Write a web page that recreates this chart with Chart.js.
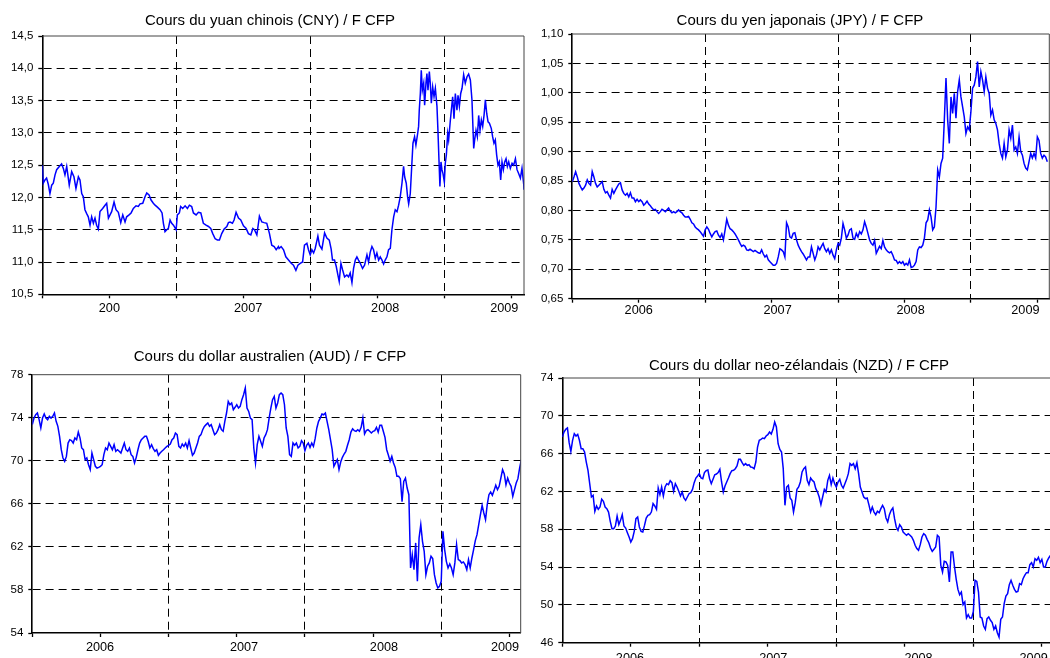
<!DOCTYPE html>
<html><head><meta charset="utf-8">
<script src="https://cdn.jsdelivr.net/npm/chart.js@4.4.1/dist/chart.umd.min.js"></script>
<style>
html,body{margin:0;padding:0;background:#fff;overflow:hidden;width:1050px;height:658px;position:relative;}
.panel{position:absolute;}
.title{position:absolute;width:420px;text-align:center;font-family:"Liberation Sans",Arial,Helvetica,sans-serif;font-size:15px;line-height:18px;color:#000;white-space:nowrap;}
</style></head><body>
<div class="panel" style="left:0px;top:0px;width:542px;height:330px"><canvas id="c1"></canvas></div>
<div class="panel" style="left:540px;top:0px;width:522px;height:330px"><canvas id="c2"></canvas></div>
<div class="panel" style="left:0px;top:340px;width:542px;height:318px"><canvas id="c3"></canvas></div>
<div class="panel" style="left:540px;top:340px;width:520px;height:330px"><canvas id="c4"></canvas></div>
<div class="title" id="t1" style="left:60px;top:11px"></div>
<div class="title" id="t2" style="left:590px;top:11px"></div>
<div class="title" id="t3" style="left:60px;top:347px"></div>
<div class="title" id="t4" style="left:589px;top:356px"></div>
<script>
// ---------- DATA ----------
const halfYearTicks = [2006, 2006.5, 2007, 2007.5, 2008, 2008.5, 2009, 2009.5];

// CNY (yuan) : dates as fractional years, values in F CFP
const cnyDates = [
2006.000,2006.007,2006.020,2006.032,2006.045,2006.057,2006.070,2006.082,2006.095,2006.107,
2006.127,2006.144,2006.157,2006.169,2006.182,2006.201,2006.219,2006.236,2006.251,2006.269,
2006.281,2006.294,2006.306,2006.318,2006.331,2006.343,2006.356,2006.368,2006.381,2006.393,
2006.405,2006.418,2006.430,2006.450,2006.468,2006.480,2006.493,2006.505,2006.517,2006.535,
2006.550,2006.567,2006.585,2006.600,2006.617,2006.629,2006.647,2006.662,2006.679,2006.699,
2006.716,2006.729,2006.749,2006.766,2006.779,2006.796,2006.811,2006.828,2006.841,2006.858,
2006.878,2006.893,2006.903,2006.915,2006.928,2006.940,2006.953,2006.965,2006.978,2006.998,
2007.007,2007.022,2007.032,2007.047,2007.065,2007.082,2007.097,2007.114,2007.127,2007.147,
2007.164,2007.182,2007.201,2007.221,2007.239,2007.256,2007.271,2007.289,2007.306,2007.321,
2007.338,2007.356,2007.376,2007.388,2007.400,2007.418,2007.430,2007.445,2007.463,2007.480,
2007.500,2007.520,2007.537,2007.555,2007.570,2007.582,2007.600,2007.619,2007.637,2007.654,
2007.674,2007.694,2007.711,2007.729,2007.744,2007.761,
2007.766,2007.781,2007.799,2007.816,2007.836,2007.856,2007.873,2007.891,2007.906,2007.923,
2007.941,2007.955,2007.973,2007.985,2007.998,2008.010,2008.023,2008.035,2008.055,2008.067,
2008.085,2008.105,2008.122,2008.140,2008.154,2008.164,2008.179,2008.192,2008.204,2008.214,
2008.227,2008.239,2008.254,2008.271,2008.284,2008.296,2008.309,2008.321,2008.334,2008.346,
2008.358,2008.371,2008.388,2008.403,2008.421,2008.433,2008.445,2008.458,2008.470,2008.483,
2008.495,2008.508,2008.520,2008.533,2008.545,2008.557,2008.570,2008.582,2008.595,2008.607,
2008.620,2008.632,2008.645,2008.657,2008.669,2008.682,2008.694,2008.702,2008.714,2008.724,
2008.732,2008.744,2008.756,2008.764,2008.776,2008.786,2008.799,2008.806,2008.811,2008.819,
2008.826,2008.834,2008.844,2008.851,2008.861,2008.868,2008.876,2008.886,2008.893,2008.901,
2008.911,2008.921,2008.931,2008.943,2008.950,2008.958,2008.965,2008.973,2008.980,2008.988,
2008.998,2009.005,2009.013,2009.023,2009.030,2009.043,2009.050,2009.060,2009.070,2009.080,
2009.092,2009.100,2009.110,2009.120,2009.130,2009.142,2009.154,2009.167,2009.179,2009.192,
2009.204,2009.217,2009.224,2009.234,2009.244,2009.254,2009.264,2009.274,2009.284,2009.294,
2009.304,2009.314,2009.324,2009.334,2009.348,2009.358,2009.368,2009.378,2009.388,2009.398,
2009.408,2009.418,2009.428,2009.438,2009.448,2009.458,2009.468,2009.478,2009.490,2009.503,
2009.515,2009.528,2009.540,2009.552,2009.565,2009.577,2009.590,2009.592];
const cnyValues = [
12.50,12.22,12.27,12.30,12.20,12.06,12.19,12.22,12.35,12.43,
12.48,12.52,12.45,12.35,12.48,12.19,12.40,12.32,12.14,12.32,
12.27,12.06,12.01,11.81,11.75,11.70,11.57,11.70,11.60,11.68,
11.57,11.51,11.78,11.83,11.88,11.91,11.68,11.73,11.78,11.93,
11.81,11.77,11.61,11.73,11.62,11.70,11.73,11.76,11.83,11.87,
11.86,11.90,11.91,12.01,12.07,12.04,11.96,11.91,11.88,11.85,
11.81,11.76,11.60,11.47,11.50,11.52,11.65,11.60,11.57,11.50,
11.73,11.76,11.86,11.83,11.87,11.83,11.88,11.86,11.76,11.73,
11.77,11.76,11.60,11.57,11.55,11.52,11.44,11.36,11.34,11.34,
11.44,11.51,11.55,11.61,11.62,11.60,11.65,11.77,11.68,11.65,
11.56,11.52,11.44,11.42,11.52,11.50,11.42,11.71,11.62,11.61,
11.60,11.44,11.26,11.24,11.19,11.24,
11.21,11.24,11.19,11.08,11.03,10.98,10.95,10.87,10.95,10.98,
11.00,11.26,11.29,11.19,11.11,11.19,11.14,11.21,11.40,11.26,
11.20,11.45,11.37,11.34,11.20,11.03,11.03,10.93,10.80,10.70,
10.98,10.88,10.77,10.80,10.77,10.83,10.68,10.90,11.03,11.08,
11.03,10.98,10.90,10.95,11.11,11.00,11.15,11.24,11.19,11.06,
11.14,11.03,11.08,11.03,10.97,11.03,11.08,11.19,11.21,11.50,
11.70,11.81,11.78,11.88,12.01,12.22,12.48,12.32,12.22,12.01,
11.90,12.06,12.53,12.84,12.94,12.81,12.99,13.10,13.35,13.61,
13.97,13.66,13.77,13.43,13.77,13.92,13.66,13.95,13.77,13.46,
13.71,13.56,13.69,13.41,13.05,12.58,12.17,12.55,12.43,12.37,
12.24,12.53,12.66,12.99,12.89,13.20,13.35,13.56,13.22,13.61,
13.35,13.58,13.41,13.61,13.69,13.90,13.77,13.87,13.91,13.82,
13.51,12.76,12.89,13.04,12.94,13.27,13.04,13.20,13.10,13.27,
13.51,13.30,13.17,13.15,13.07,12.94,12.84,12.89,12.66,12.50,
12.55,12.27,12.55,12.43,12.55,12.60,12.48,12.55,12.45,12.53,
12.50,12.60,12.43,12.37,12.30,12.45,12.20,12.12];

// JPY, AUD, NZD : regular sampling grid starting 2006.0, one point every 1/80 year
const gridStart = 2006;
const gridStep = 1 / 80;

const jpyValues = [
0.849,0.857,0.866,0.857,0.846,0.840,0.835,0.838,0.843,0.852,
0.846,0.843,0.866,0.857,0.846,0.840,0.843,0.846,0.849,0.836,
0.830,0.832,0.826,0.821,0.836,0.829,0.835,0.840,0.845,0.847,
0.835,0.829,0.826,0.829,0.823,0.830,0.821,0.821,0.815,0.819,
0.815,0.818,0.815,0.809,0.812,0.816,0.811,0.808,0.804,0.801,
0.802,0.798,0.795,0.798,0.802,0.800,0.798,0.801,0.804,0.799,
0.796,0.798,0.796,0.798,0.801,0.798,0.796,0.792,0.789,0.789,
0.790,0.785,0.779,0.777,0.772,0.769,0.767,0.764,0.760,0.756,
0.767,0.772,0.768,0.761,0.755,0.760,0.764,0.765,0.758,0.754,
0.760,0.750,0.767,0.785,0.775,0.769,0.767,0.764,0.760,0.755,
0.750,0.744,0.739,0.741,0.739,0.733,0.732,0.734,0.732,0.730,
0.732,0.730,0.728,0.727,0.733,0.726,0.721,0.724,0.716,0.713,
0.710,0.707,0.707,0.710,0.721,0.735,0.733,0.730,0.721,0.779,
0.772,0.755,0.753,0.761,0.762,0.750,0.741,0.735,0.730,0.726,
0.721,0.716,0.721,
0.721,0.738,0.727,0.716,0.724,0.738,0.733,0.739,0.744,0.735,
0.730,0.735,0.727,0.733,0.724,0.718,0.733,0.744,0.741,0.753,
0.778,0.767,0.753,0.758,0.767,0.769,0.753,0.751,0.761,0.755,
0.764,0.760,0.767,0.781,0.772,0.761,0.750,0.744,0.741,0.749,
0.727,0.733,0.739,0.735,0.749,0.738,0.733,0.730,0.728,0.730,
0.724,0.716,0.715,0.710,0.713,0.710,0.713,0.707,0.710,0.707,
0.716,0.703,0.704,0.707,0.713,0.733,0.738,0.737,0.741,0.753,
0.779,0.784,0.801,0.789,0.767,0.772,0.806,0.869,0.857,0.880,
0.889,0.954,1.025,0.954,0.914,0.993,0.965,0.999,0.957,1.002,
1.022,0.993,0.976,0.959,0.931,0.942,0.937,0.968,1.008,1.013,
1.027,1.053,1.010,1.036,1.022,1.002,1.027,1.008,0.999,0.962,
0.971,0.954,0.948,0.937,0.914,0.897,0.889,0.914,0.891,0.903,
0.937,0.923,0.945,0.903,0.908,0.897,0.925,0.900,0.894,0.880,
0.872,0.869,0.883,0.897,0.889,0.897,0.889,0.925,0.919,0.897,
0.889,0.894,0.891,0.883];

const audValues = [
73.36,73.97,74.28,74.44,73.82,73.05,73.97,74.35,73.97,73.82,
74.13,73.97,74.13,74.44,73.67,73.20,72.27,71.03,70.26,69.95,
70.41,71.65,71.96,71.87,71.65,72.12,71.96,72.67,72.12,71.19,
71.03,70.11,70.26,69.64,69.18,70.72,70.11,69.49,69.33,69.39,
69.49,69.64,70.57,71.19,71.03,71.65,71.34,71.03,71.50,70.88,
71.03,70.88,70.72,71.19,71.65,71.03,70.88,71.19,70.57,70.41,
69.80,70.32,71.03,71.65,71.96,72.12,72.27,72.27,71.81,71.19,
71.50,71.13,70.88,71.03,70.51,70.72,70.88,71.03,71.19,71.34,
71.44,71.56,71.96,72.12,72.58,72.43,71.34,71.19,71.56,71.34,
71.65,71.19,71.87,71.19,70.51,70.72,71.19,71.65,72.27,72.43,
72.89,73.20,73.36,73.51,73.20,73.36,72.89,72.43,72.58,72.89,
73.36,72.89,72.74,73.67,74.44,75.52,75.21,75.37,74.75,74.97,
75.21,74.90,75.06,75.68,76.14,76.76,74.90,74.59,73.97,73.82,
71.19,69.80,71.50,72.27,71.81,71.34,72.12,72.43,72.89,73.97,
74.90,75.68,75.99,
74.90,75.37,76.14,76.30,76.14,75.21,73.05,
72.27,70.57,70.41,71.65,71.44,71.65,71.19,71.34,71.87,71.65,
70.94,71.44,71.65,71.25,71.65,71.34,72.06,73.05,73.67,73.97,
74.35,74.28,74.44,73.67,72.89,71.96,71.03,69.49,69.80,70.11,
69.18,69.89,70.32,70.63,70.88,71.44,71.96,72.67,72.98,72.80,
72.74,72.89,72.74,73.11,73.97,72.49,72.80,72.89,72.74,72.58,
72.74,72.80,73.11,72.67,73.30,73.30,72.74,72.18,71.03,70.51,
69.95,70.41,69.80,69.39,68.56,68.56,68.34,66.20,68.09,68.40,
67.47,66.85,60.04,61.28,59.89,62.37,58.80,62.83,64.07,62.52,
61.59,59.42,60.20,60.51,61.13,60.91,59.42,58.65,58.19,58.34,
58.80,63.45,61.75,60.66,60.04,60.41,60.04,59.42,60.51,62.21,
60.82,60.72,60.51,60.60,60.35,59.89,60.82,60.04,60.97,61.75,
62.58,63.14,64.07,65.00,65.86,65.15,64.53,65.93,66.85,67.10,
66.79,67.23,67.72,67.32,67.63,68.40,69.18,68.77,67.78,68.40,
67.94,67.63,66.70,67.32,67.94,68.34,69.33,70.10];

const nzdValues = [
67.76,68.29,68.57,68.71,67.16,66.24,67.41,68.11,67.86,68.04,
67.41,66.52,66.52,66.17,65.11,64.23,62.82,61.41,61.59,59.90,
60.46,60.11,60.35,61.17,60.95,60.35,60.18,59.82,58.84,58.06,
58.06,58.34,59.40,58.49,58.94,59.54,58.34,58.13,57.64,57.18,
56.65,57.00,57.78,59.12,59.30,58.24,57.78,57.71,58.41,59.19,
59.47,59.54,59.82,60.71,60.46,60.11,62.36,61.66,62.47,61.52,
62.47,62.82,62.72,63.14,62.93,62.01,62.82,62.47,62.01,61.52,
61.94,61.31,61.06,61.41,61.76,61.87,62.22,62.93,63.42,63.63,
63.88,63.42,63.35,63.99,64.20,64.27,63.35,62.82,63.28,63.77,
63.84,63.99,64.34,63.00,61.94,62.58,63.00,63.42,63.88,64.20,
64.23,64.41,64.69,65.40,65.40,65.04,64.76,64.94,64.76,64.83,
64.59,64.55,64.41,65.11,66.70,67.41,67.51,67.65,67.58,67.86,
68.01,68.29,68.08,68.57,69.35,68.82,67.05,66.45,66.17,64.41,
60.53,62.47,62.65,61.31,61.06,59.82,60.81,62.22,62.47,63.00,
64.06,64.41,
64.59,63.17,62.72,63.42,63.17,63.00,62.29,61.94,
61.41,60.60,61.41,62.22,61.94,63.17,63.70,62.72,63.42,62.82,
62.47,63.00,63.28,62.65,62.36,62.82,63.28,63.88,64.94,64.76,
64.94,64.41,65.04,63.88,62.47,61.94,61.41,61.24,61.31,60.60,
59.82,60.35,59.82,59.54,59.90,59.75,60.18,60.53,60.18,59.19,
58.77,59.54,60.00,60.25,59.12,58.24,57.89,58.49,58.24,57.71,
57.53,57.36,57.53,57.36,57.18,56.83,56.30,55.95,55.77,56.37,
57.18,57.53,57.36,56.93,56.58,56.02,55.66,55.88,56.12,57.36,
57.18,54.18,53.48,54.61,54.54,54.18,52.42,55.59,55.59,54.01,
52.70,51.64,51.08,51.36,50.02,50.30,48.61,48.96,48.61,48.61,
49.32,52.60,52.49,51.36,48.72,48.61,47.77,47.41,48.54,48.72,
48.37,48.12,47.41,47.77,47.06,46.60,48.47,48.72,50.13,50.94,
51.19,52.14,52.60,52.07,51.64,51.36,51.43,52.24,52.14,52.77,
53.13,53.41,53.41,54.25,54.47,54.01,54.89,54.71,55.03,54.47,
54.82,54.01,54.01,54.61,54.96,55.24];

// tick labels
const cnyTicks = [10.5, 11.0, 11.5, 12.0, 12.5, 13.0, 13.5, 14.0, 14.5];
const jpyTicks = [0.65, 0.70, 0.75, 0.80, 0.85, 0.90, 0.95, 1.00, 1.05, 1.10];
const audTicks = [54, 58, 62, 66, 70, 74, 78];
const nzdTicks = [46, 50, 54, 58, 62, 66, 70, 74];
const cnyYearLabels = ['200', '2007', '2008', '2009'];
const yearLabels = ['2006', '2007', '2008', '2009'];
const cnyYearLabelAt = [2006.5, 2007.535, 2008.557, 2009.445];
const jpyYearLabelAt = [2006.5, 2007.545, 2008.546, 2009.41];
const audYearLabelAt = [2006.497, 2007.553, 2008.58, 2009.468];
const nzdYearLabelAt = [2006.494, 2007.54, 2008.6, 2009.44];

const titles = [
  'Cours du yuan chinois (CNY) / F CFP',
  'Cours du yen japonais (JPY) / F CFP',
  'Cours du dollar australien (AUD) / F CFP',
  'Cours du dollar neo-zélandais (NZD) / F CFP'
];
['t1', 't2', 't3', 't4'].forEach((id, i) => { document.getElementById(id).textContent = titles[i]; });

// ---------- CHART ----------
const FONT = '"Liberation Sans", Arial, Helvetica, sans-serif';
const gridDates = n => Array.from({length: n}, (_, k) => gridStart + k * gridStep);

const framePlugin = {
  id: 'frame',
  afterDatasetsDraw(chart) {
    const {ctx, chartArea: a} = chart;
    ctx.save();
    ctx.strokeStyle = '#444';
    ctx.lineWidth = 1;
    ctx.beginPath();
    ctx.moveTo(a.left, a.top);
    ctx.lineTo(a.right, a.top);
    ctx.lineTo(a.right, a.bottom);
    ctx.stroke();
    ctx.restore();
  }
};

function makePanel(id, cfg) {
  const pts = cfg.dates.map((t, i) => ({x: t, y: cfg.values[i]}));
  const labelMap = new Map(cfg.labelAt.map((p, i) => [p, cfg.labels[i]]));
  const tickVals = Array.from(new Set([...halfYearTicks, ...cfg.labelAt])).sort((a, b) => a - b);
  const yT = cfg.yTicks;
  return new Chart(document.getElementById(id), {
    type: 'line',
    data: {datasets: [{data: pts, borderColor: '#0000ff', borderWidth: 1.5, pointRadius: 0, fill: false, tension: 0}]},
    options: {
      responsive: true, maintainAspectRatio: false, animation: false,
      layout: {padding: {left: 0, right: cfg.padR, top: cfg.padTop, bottom: 0}},
      plugins: {legend: {display: false}, tooltip: {enabled: false}, title: {display: false}},
      scales: {
        x: {
          type: 'linear', bounds: 'data', min: 2006, max: cfg.xMax,
          afterBuildTicks: s => { s.ticks = tickVals.map(v => ({value: v})); },
          afterFit: s => { s.height = cfg.xHeight; },
          ticks: {autoSkip: false, maxRotation: 0, padding: cfg.xPad, color: '#000',
            font: {family: FONT, size: 12.7},
            callback: v => labelMap.has(v) ? labelMap.get(v) : ''},
          grid: {
            color: c => (c.tick && Number.isInteger(c.tick.value) && c.tick.value > 2006) ? '#000' : 'rgba(0,0,0,0)',
            lineWidth: 1, tickLength: 4, tickWidth: 1.3, tickBorderDash: [],
            tickColor: c => (c.tick && halfYearTicks.includes(c.tick.value)) ? '#000' : 'rgba(0,0,0,0)'
          },
          border: {display: true, color: '#000', width: 1.6, dash: [8, 5]}
        },
        y: {
          type: 'linear', min: yT[0], max: yT[yT.length - 1],
          afterBuildTicks: s => { s.ticks = yT.map(v => ({value: v})); },
          afterFit: s => { s.width = cfg.yWidth; },
          ticks: {padding: 5, color: '#000', font: {family: FONT, size: 11.5},
            callback: v => v.toFixed(cfg.dec).replace('.', ',')},
          grid: {
            color: c => (c.tick && c.index > 0 && c.index < yT.length - 1) ? '#000' : 'rgba(0,0,0,0)',
            lineWidth: 1, tickLength: 4, tickWidth: 1.3, tickBorderDash: [], tickColor: '#000'
          },
          border: {display: true, color: '#000', width: 1.6, dash: [8, 5]}
        }
      }
    },
    plugins: [framePlugin]
  });
}

makePanel('c1', {dates: cnyDates, values: cnyValues, yTicks: cnyTicks, dec: 1,
  labels: cnyYearLabels, labelAt: cnyYearLabelAt, xMax: 2009.592,
  padR: 18, yWidth: 42.3, padTop: 36, xHeight: 35.7, xPad: 2.4});
makePanel('c2', {dates: gridDates(jpyValues.length), values: jpyValues, yTicks: jpyTicks, dec: 2,
  labels: yearLabels, labelAt: jpyYearLabelAt, xMax: 2009.59,
  padR: 12.7, yWidth: 32.3, padTop: 34, xHeight: 31.3, xPad: 0});
makePanel('c3', {dates: gridDates(audValues.length), values: audValues, yTicks: audTicks, dec: 0,
  labels: yearLabels, labelAt: audYearLabelAt, xMax: 2009.583,
  padR: 21.3, yWidth: 32.3, padTop: 34.7, xHeight: 25, xPad: 2.7});
makePanel('c4', {dates: gridDates(nzdValues.length), values: nzdValues, yTicks: nzdTicks, dec: 0,
  labels: yearLabels, labelAt: nzdYearLabelAt, xMax: 2009.574,
  padR: 8, yWidth: 22.3, padTop: 38, xHeight: 27.3, xPad: 3.7});
</script>
</body></html>
